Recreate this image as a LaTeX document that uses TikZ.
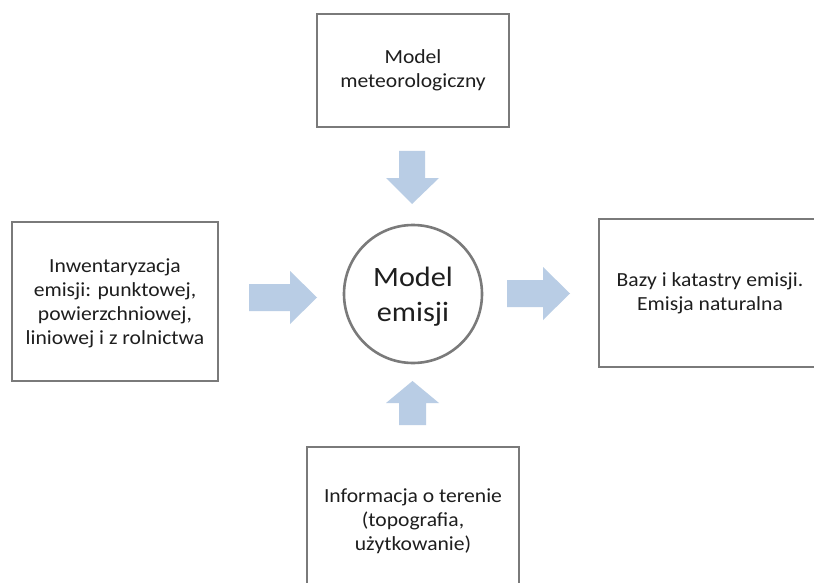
\documentclass[tikz,border=0pt]{standalone}
\usepackage{fontspec}
\setmainfont{Carlito}[FakeStretch=1.08]
\definecolor{boxline}{HTML}{7A7A7A}
\definecolor{arrowfill}{HTML}{B9CDE5}
\definecolor{txt}{HTML}{1E1E1E}
\tikzset{
  infobox/.style={draw=boxline, line width=2.8pt, fill=white, align=center, text=txt,
    font=\fontsize{20}{24}\selectfont, inner sep=0pt},
  hub/.style={circle, draw=boxline, line width=2.6pt, fill=white, align=center, text=txt,
    font=\fontsize{28}{35}\selectfont, inner sep=0pt, minimum size=138pt},
  blockarrow/.style={fill=arrowfill, draw=none}
}
\begin{document}
\begin{tikzpicture}[x=1pt,y=-1pt]
\useasboundingbox (0,0) rectangle (814,583);
\clip (0,0) rectangle (814,583);
\fill[white] (0,0) rectangle (814,583);

\node[infobox, minimum width=192pt, minimum height=113pt] (meteo) at (413,70.5)
  {Model\\meteorologiczny};
\node[infobox, minimum width=206pt, minimum height=159pt, text depth=0pt] (inw) at (115,301.5)
  {Inwentaryzacja\\emisji: punktowej,\\powierzchniowej,\\liniowej i z rolnictwa};
\node[infobox, minimum width=222pt, minimum height=148pt] (bazy) at (710,293)
  {Bazy i katastry emisji.\\Emisja naturalna};
\node[infobox, minimum width=212pt, minimum height=148pt] (teren) at (413,521)
  {Informacja o terenie\\(topografia,\\użytkowanie)};
\node[hub] (model) at (413,294) {};
\node[text=txt, font=\fontsize{28}{35}\selectfont, align=center, inner sep=0pt] (modeltxt)
  at (413,297) {Model\\emisji};

% block arrows
\fill[blockarrow] (399,151) -- (425,151) -- (425,178) -- (439,178) -- (412,204)
  -- (386,178) -- (399,178) -- cycle;
\fill[blockarrow] (249,284) -- (290,284) -- (290,271) -- (317,297.5) -- (290,324)
  -- (290,311) -- (249,311) -- cycle;
\fill[blockarrow] (507,280) -- (543,280) -- (543,267) -- (570,293.5) -- (543,320)
  -- (543,307) -- (507,307) -- cycle;
\fill[blockarrow] (399,425) -- (426,425) -- (426,403) -- (439,403) -- (412.5,381)
  -- (386,403) -- (399,403) -- cycle;
\end{tikzpicture}
\end{document}
